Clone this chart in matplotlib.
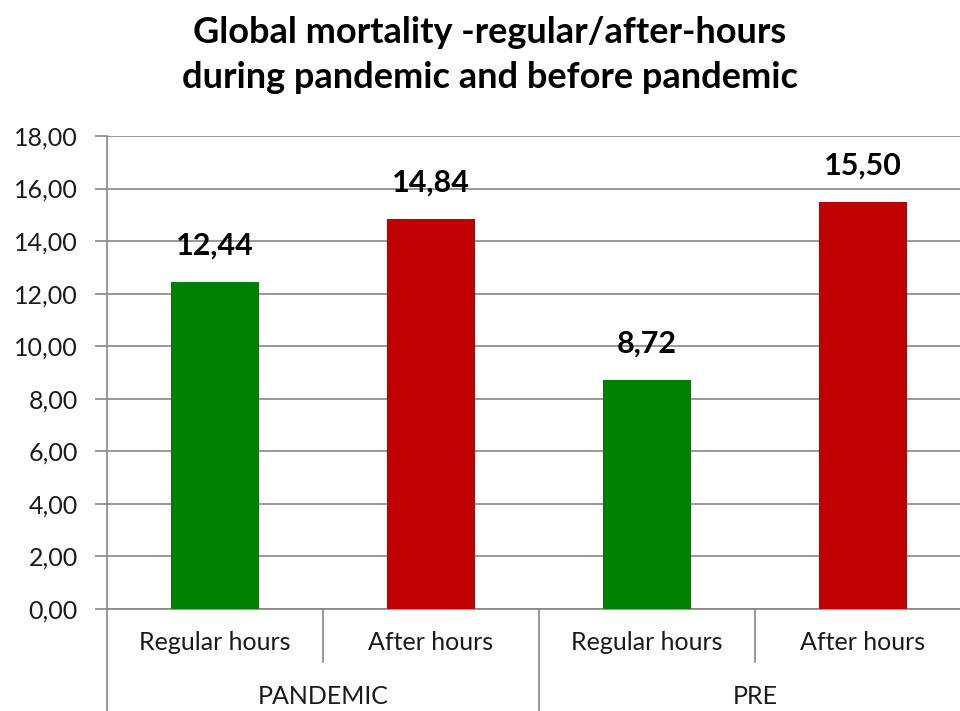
import matplotlib.pyplot as plt
from matplotlib.ticker import FuncFormatter
from matplotlib.transforms import blended_transform_factory

plt.rcParams['font.family'] = ['Lato', 'DejaVu Sans']

### chart data
groups = ['PANDEMIC', 'PRE']
subcats = ['Regular hours', 'After hours', 'Regular hours', 'After hours']
values = [12.44, 14.84, 8.72, 15.50]
colors = ['#008000', '#C00000', '#008000', '#C00000']
title = 'Global mortality -regular/after-hours\nduring pandemic and before pandemic'

fig = plt.figure(figsize=(9.6, 7.11), dpi=100)
ax = fig.add_axes([107 / 960, 1 - 609 / 711, 864 / 960, (609 - 136) / 711])

x = [i + 0.5 for i in range(len(values))]
bars = ax.bar(x, values, width=0.41, color=colors, zorder=3)
ax.set_xlim(0, len(values))
ax.set_ylim(0, 18)
ax.set_yticks(range(0, 19, 2))
ax.yaxis.set_major_formatter(FuncFormatter(lambda v, p: f'{v:.2f}'.replace('.', ',')))
ax.grid(axis='y', color='#878787', linewidth=1.2, zorder=0)

# data labels
for b, v in zip(bars, values):
    ax.annotate(f'{v:.2f}'.replace('.', ','), (b.get_x() + b.get_width() / 2, v),
                xytext=(0, 16), textcoords='offset points', ha='center', va='bottom',
                fontsize=22, fontweight='bold', color='black')

for s in ['top', 'right']:
    ax.spines[s].set_visible(False)
ax.spines['left'].set_color('#878787')
ax.spines['bottom'].set_color('#878787')
ax.spines['left'].set_linewidth(1.2)
ax.spines['bottom'].set_linewidth(1.2)
ax.tick_params(axis='y', length=9, color='#878787', width=1.2, labelsize=18, pad=12,
               labelcolor='#1a1a1a')

# category axis with two levels
ax.set_xticks(x)
ax.set_xticklabels(subcats, fontsize=18, color='#1a1a1a')
ax.tick_params(axis='x', length=0, pad=16)
trans = blended_transform_factory(ax.transData, fig.transFigure)
for xs in [1, 3]:
    ax.plot([xs, xs], [1 - 609 / 711, 1 - 662 / 711], color='#878787', lw=1.2,
            transform=trans, clip_on=False)
for xs in [0, 2, 4]:
    ax.plot([xs, xs], [1 - 609 / 711, 0], color='#878787', lw=1.2,
            transform=trans, clip_on=False)
for i, g in enumerate(groups):
    ax.text(2 * i + 1, 1 - 697 / 711, g, transform=trans, ha='center', va='center',
            fontsize=18, color='#1a1a1a')

fig.text(0.51, 1 - 55 / 711, title, ha='center', va='center', fontsize=26,
         fontweight='bold', linespacing=1.45)

plt.savefig('out.png', dpi=100)
